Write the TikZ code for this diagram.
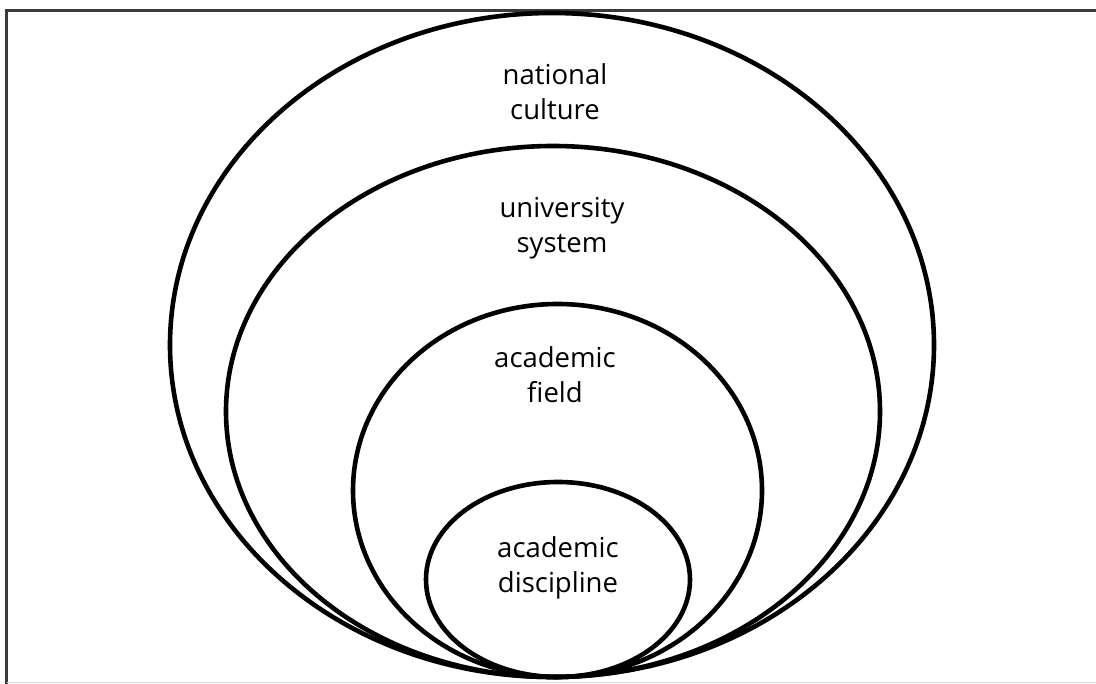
\documentclass[tikz,border=0pt]{standalone}
\usepackage{fontspec}
\setmainfont{Open Sans}
\definecolor{frame}{HTML}{3A3A3A}
\definecolor{lframe}{HTML}{D8D8D8}
\begin{document}
\begin{tikzpicture}[x=1pt,y=-1pt,
  ring/.style={draw=black,line width=4.6pt},
  lbl/.style={align=center,font=\fontsize{27.5}{35}\selectfont,text=black}]
\useasboundingbox (0,0) rectangle (1096,684);
\draw[frame,line width=2.2pt] (6.5,684) -- (6.5,10.5) -- (1096,10.5);
\draw[lframe,line width=1.5pt] (6.5,682.5) -- (1096,682.5);
\draw[ring] (552,345) ellipse [x radius=382,y radius=332];
\draw[ring] (553,411.5) ellipse [x radius=327,y radius=265.5];
\draw[ring] (557.5,490.5) ellipse [x radius=204.5,y radius=186.5];
\draw[ring] (558,579.5) ellipse [x radius=132,y radius=97.5];
\node[lbl] (nc) at (555,92) {national\\culture};
\node[lbl] (us) at (562,228) {university\\system};
\node[lbl] (af) at (555,375) {academic\\field};
\node[lbl] (ad) at (558,568) {academic\\discipline};
\end{tikzpicture}
\end{document}
